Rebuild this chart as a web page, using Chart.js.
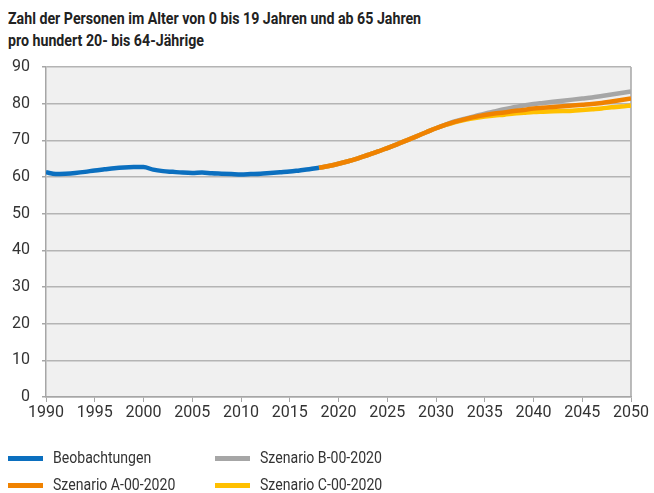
<!DOCTYPE html>
<html>
<head>
<meta charset="utf-8">
<script src="https://cdn.jsdelivr.net/npm/chart.js"></script>
<style>
  body { margin: 0; background: #fff; }
  #wrap { position: relative; width: 654px; height: 493px; font-family: 'Roboto', sans-serif; color: #222; }
  #title { position: absolute; left: 8px; top: 7px; font-size: 17px; font-weight: bold; line-height: 22px; white-space: nowrap; transform: scaleX(0.835); transform-origin: 0 0; }
  #chart { position: absolute; left: 0; top: 0; }
  .leg { position: absolute; font-size: 16px; line-height: 20px; }
  .leg span { position: absolute; left: 0; top: 8px; width: 35px; height: 5px; }
  .leg b { position: absolute; left: 45px; top: 0; font-weight: normal; white-space: nowrap; color: #333; transform: scaleX(0.88); transform-origin: 0 0; }
</style>
</head>
<body>
<div id="wrap">
  <div id="title">Zahl der Personen im Alter von 0 bis 19 Jahren und ab 65 Jahren<br>pro hundert 20- bis 64-Jährige</div>
  <canvas id="chart" width="654" height="493"></canvas>
  <div id="legend"></div>
</div>
<script>
// observed values, 1990-2018
const obsStart = 1990;
const obsValues = [61.3, 60.8, 60.9, 61.1, 61.4, 61.8, 62.1, 62.4, 62.6, 62.7,
  62.7, 62.0, 61.6, 61.4, 61.2, 61.1, 61.2, 61.0, 60.9, 60.8,
  60.7, 60.8, 60.9, 61.1, 61.3, 61.5, 61.8, 62.1, 62.5];

// scenarios, 2018-2050
const scenStart = 2018;
const scenA = [62.5, 63.0, 63.6, 64.3, 65.1, 66.0, 66.9, 67.9, 68.9, 70.0,
  71.1, 72.2, 73.3, 74.3, 75.1, 75.8, 76.4, 76.9, 77.3, 77.6,
  78.0, 78.3, 78.7, 78.9, 79.1, 79.3, 79.5, 79.7, 79.9, 80.2,
  80.6, 81.0, 81.4];
const scenB = [62.5, 63.0, 63.6, 64.3, 65.1, 66.0, 66.9, 67.9, 68.9, 70.0,
  71.1, 72.2, 73.3, 74.3, 75.2, 75.9, 76.6, 77.3, 77.9, 78.5,
  79.0, 79.5, 79.9, 80.2, 80.5, 80.8, 81.1, 81.4, 81.7, 82.1,
  82.5, 82.9, 83.3];
const scenC = [62.5, 63.0, 63.6, 64.3, 65.1, 66.0, 66.9, 67.9, 68.9, 70.0,
  71.1, 72.2, 73.3, 74.2, 75.0, 75.6, 76.1, 76.5, 76.8, 77.0,
  77.3, 77.5, 77.7, 77.8, 77.9, 78.0, 78.1, 78.3, 78.5, 78.7,
  79.0, 79.2, 79.5];

const seriesLabels = ['Beobachtungen', 'Szenario A-00-2020', 'Szenario B-00-2020', 'Szenario C-00-2020'];
const seriesColors = ['#0b6fbf', '#f08200', '#a6a6a6', '#ffc000'];

const xTicks = [1990, 1995, 2000, 2005, 2010, 2015, 2020, 2025, 2030, 2035, 2040, 2045, 2050];
const yTicks = [0, 10, 20, 30, 40, 50, 60, 70, 80, 90];

function toPoints(start, values) {
  return values.map((v, i) => ({ x: start + i, y: v }));
}

const plotBg = {
  id: 'plotBg',
  beforeDraw(chart) {
    const { ctx, chartArea: a } = chart;
    ctx.save();
    ctx.fillStyle = '#f0f0f0';
    ctx.fillRect(a.left, a.top, a.right - a.left, a.bottom - a.top);
    ctx.strokeStyle = '#a6a6a6';
    ctx.lineWidth = 1.5;
    ctx.beginPath();
    ctx.moveTo(a.right, a.top);
    ctx.lineTo(a.right, a.bottom);
    ctx.stroke();
    ctx.restore();
  }
};

const datasets = [
  { data: toPoints(obsStart, obsValues) },
  { data: toPoints(scenStart, scenA) },
  { data: toPoints(scenStart, scenB) },
  { data: toPoints(scenStart, scenC) }
].map((d, i) => Object.assign(d, {
  label: seriesLabels[i],
  borderColor: seriesColors[i],
  backgroundColor: seriesColors[i],
  borderWidth: 4.5,
  pointRadius: 0,
  cubicInterpolationMode: 'monotone',
  fill: false
}));

const font = { family: "'Roboto', sans-serif", size: 16 };

new Chart(document.getElementById('chart'), {
  type: 'line',
  data: { datasets: datasets },
  options: {
    responsive: false,
    animation: false,
    devicePixelRatio: 1,
    layout: { padding: { left: 0, top: 67, right: 23, bottom: 68 } },
    plugins: { legend: { display: false }, tooltip: { enabled: false } },
    scales: {
      x: {
        type: 'linear', min: 1990, max: 2050,
        afterFit: s => { s.height = 28; },
        afterBuildTicks: s => { s.ticks = xTicks.map(v => ({ value: v })); },
        ticks: { color: '#333', font: font, padding: 1, maxRotation: 0, callback: v => String(v) },
        grid: { drawOnChartArea: false, drawTicks: true, tickLength: 5, color: '#a6a6a6' },
        border: { color: '#a6a6a6', width: 1.5 }
      },
      y: {
        min: 0, max: 90,
        afterFit: s => { s.width = 46; },
        afterBuildTicks: s => { s.ticks = yTicks.map(v => ({ value: v })); },
        ticks: { color: '#333', font: font, padding: 12 },
        grid: { color: '#b4b4b4', lineWidth: 1.5, tickLength: 4, tickColor: '#a6a6a6' },
        border: { color: '#a6a6a6', width: 1.5 }
      }
    }
  },
  plugins: [plotBg]
});

// legend laid out in two columns like the original
const legendPos = [[8, 448], [8, 475], [215, 448], [215, 475]];
const legend = document.getElementById('legend');
seriesLabels.forEach((lab, i) => {
  const el = document.createElement('div');
  el.className = 'leg';
  el.style.left = legendPos[i][0] + 'px';
  el.style.top = legendPos[i][1] + 'px';
  el.innerHTML = '<span style="background:' + seriesColors[i] + '"></span><b>' + lab + '</b>';
  legend.appendChild(el);
});
</script>
</body>
</html>
